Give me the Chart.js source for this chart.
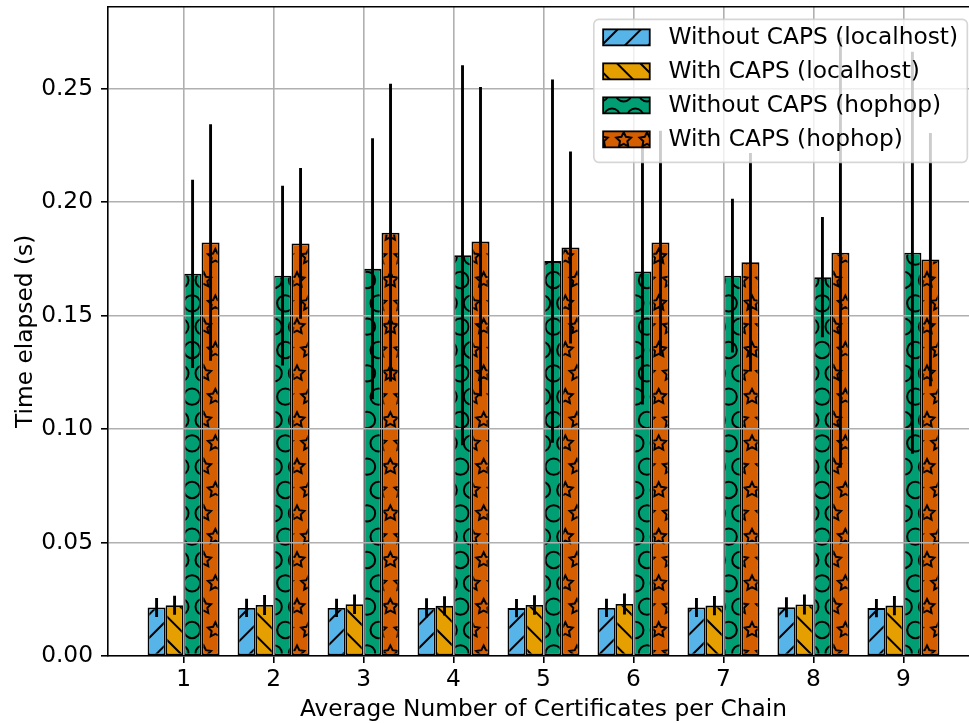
<!DOCTYPE html>
<html>
<head>
<meta charset="utf-8">
<title>Time elapsed per chain length</title>
<script src="https://cdn.jsdelivr.net/npm/chart.js"></script>
<style>
  html, body { margin: 0; padding: 0; overflow: hidden; background: #fff; }
  #wrap { width: 969px; height: 723px; overflow: hidden; }
</style>
</head>
<body>
<div id="wrap"><canvas id="myChart" width="990" height="723"></canvas></div>
<script>
// x categories
const certsPerChain = [1, 2, 3, 4, 5, 6, 7, 8, 9];

const seriesLabels = [
  'Without CAPS (localhost)',
  'With CAPS (localhost)',
  'Without CAPS (hophop)',
  'With CAPS (hophop)'
];

// mean time elapsed (s)
const withoutCapsLocal = [0.0214, 0.0212, 0.0212, 0.0212, 0.0211, 0.0212, 0.0214, 0.0215, 0.0211];
const withCapsLocal    = [0.0224, 0.0225, 0.0228, 0.0221, 0.0225, 0.0229, 0.0222, 0.0227, 0.0222];
const withoutCapsHop   = [0.1684, 0.1676, 0.1706, 0.1766, 0.1740, 0.1694, 0.1676, 0.1669, 0.1777];
const withCapsHop      = [0.1822, 0.1818, 0.1865, 0.1826, 0.1800, 0.1822, 0.1735, 0.1777, 0.1747];

// standard deviations (error bars)
const withoutCapsLocalErr = [0.0042, 0.0040, 0.0040, 0.0042, 0.0040, 0.0040, 0.0042, 0.0044, 0.0040];
const withCapsLocalErr    = [0.0042, 0.0044, 0.0043, 0.0042, 0.0043, 0.0046, 0.0042, 0.0044, 0.0042];
const withoutCapsHopErr   = [0.0415, 0.0396, 0.0575, 0.0837, 0.0800, 0.0586, 0.0339, 0.0265, 0.0886];
const withCapsHopErr      = [0.0521, 0.0332, 0.0656, 0.0681, 0.0423, 0.0492, 0.0481, 0.0948, 0.0558];

const yTicks = [0, 0.05, 0.10, 0.15, 0.20, 0.25];

const FONT = 'DejaVu Sans';
const FSIZE = 23.3;
const HATCH = 140;          // one hatch unit, px
const STEP = HATCH / 6;

function starPath(g, cx, cy, r) {
  g.moveTo(cx, cy - r);
  for (let k = 1; k < 10; k++) {
    const a = -Math.PI / 2 + k * Math.PI / 5;
    const rr = k % 2 ? r * 0.5 : r;
    g.lineTo(cx + rr * Math.cos(a), cy + rr * Math.sin(a));
  }
  g.closePath();
}

function makeHatch(fill, kind) {
  const c = document.createElement('canvas');
  c.width = HATCH; c.height = HATCH;
  const g = c.getContext('2d');
  g.fillStyle = fill;
  g.fillRect(0, 0, HATCH, HATCH);
  g.strokeStyle = '#000';
  g.lineWidth = 2;
  if (kind === '/' || kind === '\\') {
    g.beginPath();
    for (let k = -7; k <= 13; k++) {
      const x0 = k * STEP;
      if (kind === '/') { g.moveTo(x0, HATCH); g.lineTo(x0 + HATCH, 0); }
      else { g.moveTo(x0, 0); g.lineTo(x0 + HATCH, HATCH); }
    }
    g.stroke();
  } else {
    for (let r = 0; r < 6; r++) {
      for (let col = 0; col < 6; col++) {
        const x = (r % 2 ? STEP / 2 : 0) + col * STEP;
        const y = r * STEP;
        for (const dx of [-HATCH, 0, HATCH]) {
          for (const dy of [-HATCH, 0, HATCH]) {
            g.beginPath();
            if (kind === 'O') g.arc(x + dx, y + dy, STEP * 0.35, 0, Math.PI * 2);
            else starPath(g, x + dx, y + dy, STEP / 3);
            g.stroke();
          }
        }
      }
    }
  }
  const p = g.createPattern(c, 'repeat');
  p.setTransform(new DOMMatrix().translate(17, 0));
  return p;
}

const fills = [
  makeHatch('#56B4E9', '/'),
  makeHatch('#E69F00', '\\'),
  makeHatch('#009E73', 'O'),
  makeHatch('#D55E00', '*')
];

const means = [withoutCapsLocal, withCapsLocal, withoutCapsHop, withCapsHop];
const errs = [withoutCapsLocalErr, withCapsLocalErr, withoutCapsHopErr, withCapsHopErr];

const datasets = seriesLabels.map((label, k) => ({
  label: label,
  data: certsPerChain.map((x, i) => ({ x: x, y: means[k][i] })),
  errors: errs[k],
  backgroundColor: fills[k],
  borderColor: '#000',
  borderWidth: 1.8,
  borderSkipped: false,
  categoryPercentage: 0.8,
  barPercentage: 1.0
}));

// error bars, top spine and legend drawn over the grid (like matplotlib)
const overlay = {
  id: 'overlay',
  afterDraw(chart) {
    const { ctx, chartArea: a, scales: { y } } = chart;
    ctx.save();
    ctx.beginPath();
    ctx.rect(a.left, a.top, a.right - a.left, a.bottom - a.top);
    ctx.clip();
    ctx.strokeStyle = '#000';
    ctx.lineWidth = 2.9;
    chart.data.datasets.forEach((ds, di) => {
      chart.getDatasetMeta(di).data.forEach((bar, i) => {
        const v = ds.data[i].y, e = ds.errors[i];
        ctx.beginPath();
        ctx.moveTo(bar.x, y.getPixelForValue(v - e));
        ctx.lineTo(bar.x, y.getPixelForValue(v + e));
        ctx.stroke();
      });
    });
    ctx.restore();

    // top + right spines
    ctx.save();
    ctx.strokeStyle = '#000';
    ctx.lineWidth = 1.6;
    ctx.beginPath();
    ctx.moveTo(a.left, a.top);
    ctx.lineTo(a.right, a.top);
    ctx.lineTo(a.right, a.bottom);
    ctx.stroke();

    // legend, upper right
    ctx.font = FSIZE + 'px "' + FONT + '"';
    const pad = 0.4 * FSIZE, hl = 2.0 * FSIZE, tp = 0.8 * FSIZE;
    const tw = Math.max(...chart.data.datasets.map(d => ctx.measureText(d.label).width));
    const w = pad + hl + tp + tw + pad;
    const h = 143;
    const bx = a.right - 0.5 * FSIZE - w;
    const by = a.top + 0.5 * FSIZE + 1;
    ctx.beginPath();
    ctx.roundRect(bx, by, w, h, 5);
    ctx.fillStyle = 'rgba(255,255,255,0.8)';
    ctx.fill();
    ctx.strokeStyle = 'rgba(204,204,204,0.8)';
    ctx.lineWidth = 1.6;
    ctx.stroke();
    chart.data.datasets.forEach((ds, i) => {
      const cy = by + 18 + i * 34;
      const hx = bx + pad;
      ctx.fillStyle = ds.backgroundColor;
      ctx.fillRect(hx, cy - 8, hl, 16);
      ctx.strokeStyle = '#000';
      ctx.lineWidth = 1.8;
      ctx.strokeRect(hx, cy - 8, hl, 16);
      ctx.fillStyle = '#000';
      ctx.textBaseline = 'middle';
      ctx.textAlign = 'left';
      ctx.fillText(ds.label, hx + hl + tp, cy + 1);
    });
    ctx.restore();
  }
};

const tickFont = { family: FONT, size: FSIZE };

new Chart(document.getElementById('myChart').getContext('2d'), {
  type: 'bar',
  data: { datasets: datasets },
  options: {
    responsive: false,
    animation: false,
    devicePixelRatio: 1,
    layout: { padding: { left: 0, top: 6.7, right: 11, bottom: 0 } },
    plugins: { legend: { display: false }, tooltip: { enabled: false } },
    scales: {
      x: {
        type: 'linear',
        min: 0.16,
        max: 9.84,
        offset: false,
        afterFit(scale) {
          scale.height = 67;
          scale.paddingLeft = 0; scale.paddingRight = 0;
        },
        grid: { offset: false, color: '#b0b0b0', lineWidth: 1.6, z: 1,
                tickColor: '#000', tickLength: 7, tickWidth: 1.6 },
        border: { color: '#000', width: 1.6, z: 2 },
        ticks: {
          stepSize: 1, includeBounds: false, maxRotation: 0, autoSkip: false,
          color: '#000', font: tickFont, padding: 3,
          callback: (v) => String(v)
        },
        title: { display: true, text: 'Average Number of Certificates per Chain',
                 color: '#000', font: { family: FONT, size: FSIZE, lineHeight: 1.0 },
                 padding: { top: 0, bottom: 1.5 } }
      },
      y: {
        type: 'linear',
        min: 0,
        max: 0.2861,
        afterFit(scale) {
          scale.width = 108;
          scale.paddingTop = 0; scale.paddingBottom = 0;
        },
        afterBuildTicks(scale) { scale.ticks = yTicks.map(v => ({ value: v })); },
        grid: { color: '#b0b0b0', lineWidth: 1.6, z: 1,
                tickColor: '#000', tickLength: 7, tickWidth: 1.6 },
        border: { color: '#000', width: 1.6, z: 2 },
        ticks: {
          color: '#000', font: tickFont, padding: 8,
          callback: (v) => v.toFixed(2)
        },
        title: { display: true, text: 'Time elapsed (s)',
                 color: '#000', font: tickFont, padding: { top: 12, bottom: 0 } }
      }
    }
  },
  plugins: [overlay]
});
</script>
</body>
</html>
